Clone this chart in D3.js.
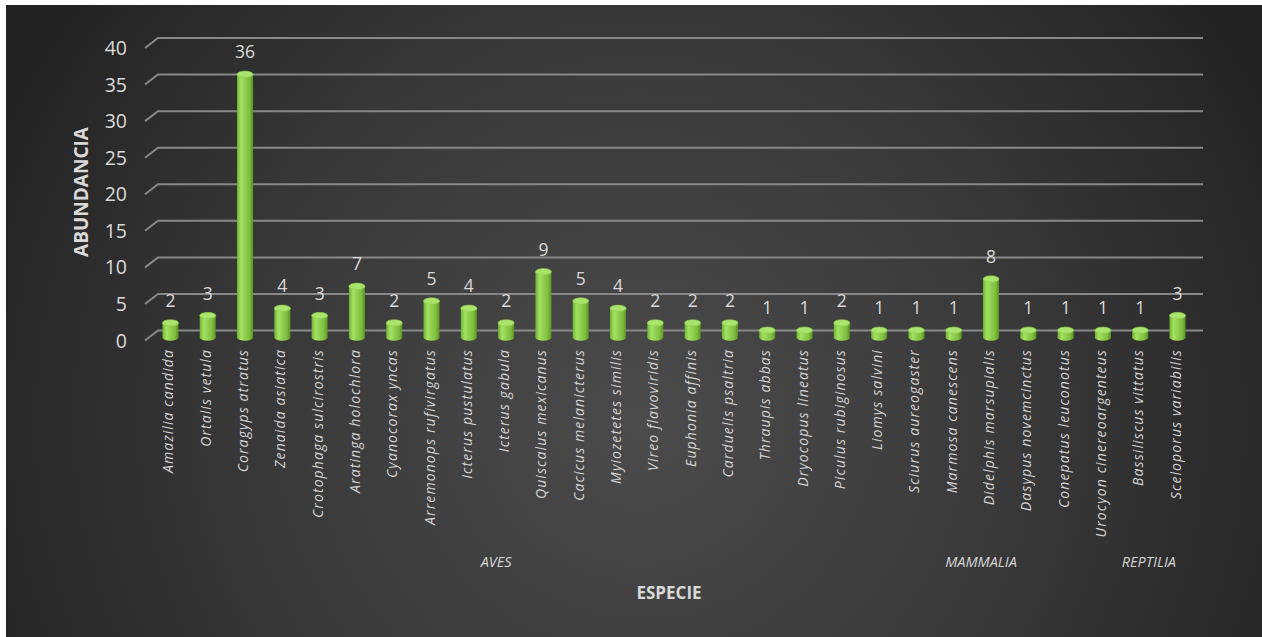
<!DOCTYPE html>
<html>
<head>
<meta charset="utf-8">
<script src="https://cdn.jsdelivr.net/npm/d3@7"></script>
<style>
  html, body { margin: 0; padding: 0; background: #ffffff; }
  svg { display: block; }
  text { font-family: "Open Sans", "DejaVu Sans", sans-serif; }
</style>
</head>
<body>
<svg id="chart" width="1262" height="637"></svg>
<script>
// Species abundance (individuals counted per species)
const species = [
  "Amazilia candida", "Ortalis vetula", "Coragyps atratus", "Zenaida asiatica",
  "Crotophaga sulcirostris", "Aratinga holochlora", "Cyanocorax yncas",
  "Arremonops rufivirgatus", "Icterus pustulatus", "Icterus gabula",
  "Quiscalus mexicanus", "Cacicus melanicterus", "Myiozetetes similis",
  "Vireo flavoviridis", "Euphonia affinis", "Carduelis psaltria",
  "Thraupis abbas", "Dryocopus lineatus", "Piculus rubiginosus",
  "Liomys salvini", "Sciurus aureogaster", "Marmosa canescens",
  "Didelphis marsupialis", "Dasypus novemcinctus", "Conepatus leuconotus",
  "Urocyon cinereoargenteus", "Bassiliscus vittatus", "Sceloporus variabilis"
];
const abundance = [2, 3, 36, 4, 3, 7, 2, 5, 4, 2, 9, 5, 4, 2, 2, 2, 1, 1, 2, 1, 1, 1, 8, 1, 1, 1, 1, 3];

// Taxonomic classes and how many consecutive species each one covers
const classes = ["AVES", "MAMMALIA", "REPTILIA"];
const classSizes = [19, 7, 2];

const yTicks = [0, 5, 10, 15, 20, 25, 30, 35, 40];

const svg = d3.select("#chart");
const W = 1262, H = 637;

// Dark panel with a soft radial light in the middle
const defs = svg.append("defs");
const bg = defs.append("radialGradient")
  .attr("id", "bgGrad")
  .attr("gradientUnits", "userSpaceOnUse")
  .attr("cx", 640).attr("cy", 420).attr("r", 720);
bg.append("stop").attr("offset", "0%").attr("stop-color", "#4b4b4b");
bg.append("stop").attr("offset", "55%").attr("stop-color", "#383838");
bg.append("stop").attr("offset", "100%").attr("stop-color", "#222222");

svg.append("rect")
  .attr("x", 6).attr("y", 5)
  .attr("width", W - 6).attr("height", H - 5)
  .attr("fill", "url(#bgGrad)");

// Cylinder shading for the columns
const barGrad = defs.append("linearGradient")
  .attr("id", "barGrad").attr("x1", "0%").attr("x2", "100%").attr("y1", "0%").attr("y2", "0%");
[["0%", "#6fb232"], ["25%", "#a3e262"], ["50%", "#92d050"], ["80%", "#7dbb3c"], ["100%", "#578f24"]]
  .forEach(([o, c]) => barGrad.append("stop").attr("offset", o).attr("stop-color", c));

// Scales: back wall for gridlines, columns sit a little in front of it
const depthX = 13, depthY = 10;
const x = d3.scaleBand().domain(species).range([152, 1196]).paddingInner(0.57).paddingOuter(0.28);
const yBack = d3.scaleLinear().domain([0, 40]).range([330.5, 38]);
const colOffset = 7;             // columns stand halfway into the floor depth
const gridRight = 1203;

// Gridlines with their perspective side segment
const grid = svg.append("g");
yTicks.forEach(t => {
  const yb = yBack(t);
  grid.append("path")
    .attr("d", `M${x.range()[0] - 7},${yb + depthY} L${x.range()[0] - 7 + depthX},${yb} L${gridRight},${yb}`)
    .attr("fill", "none")
    .attr("stroke", "#888888")
    .attr("stroke-width", 2);
});

// Y axis tick labels, placed at the front edge of the floor
svg.append("g").selectAll("text")
  .data(yTicks).join("text")
  .attr("x", 127)
  .attr("y", d => yBack(d) + depthY)
  .attr("dy", "0.36em")
  .attr("text-anchor", "end")
  .attr("font-size", 19.5)
  .attr("fill", "#d9d9d9")
  .text(d => d);

// Columns
const bw = x.bandwidth();
const ry = 3.2;
const bars = svg.append("g").selectAll("g")
  .data(species.map((s, i) => ({ s, v: abundance[i] })))
  .join("g");

bars.append("ellipse")
  .attr("cx", d => x(d.s) + bw / 2)
  .attr("cy", yBack(0) + colOffset)
  .attr("rx", bw / 2).attr("ry", ry)
  .attr("fill", "url(#barGrad)");
bars.append("rect")
  .attr("x", d => x(d.s))
  .attr("y", d => yBack(d.v) + colOffset)
  .attr("width", bw)
  .attr("height", d => yBack(0) - yBack(d.v))
  .attr("fill", "url(#barGrad)");
bars.append("ellipse")
  .attr("cx", d => x(d.s) + bw / 2)
  .attr("cy", d => yBack(d.v) + colOffset)
  .attr("rx", bw / 2).attr("ry", ry)
  .attr("fill", "#a9e46c")
  .attr("stroke", "#8cc94c").attr("stroke-width", 0.6);

// Value labels
bars.append("text")
  .attr("x", d => x(d.s) + bw / 2)
  .attr("y", d => yBack(d.v) + colOffset - 16)
  .attr("text-anchor", "middle")
  .attr("font-size", 17.5)
  .attr("fill", "#d9d9d9")
  .text(d => d.v);

// Species names, rotated
svg.append("g").selectAll("text")
  .data(species).join("text")
  .attr("transform", d => `translate(${x(d) + bw / 2 + 3},349) rotate(-90)`)
  .attr("text-anchor", "end")
  .attr("font-size", 14)
  .attr("font-style", "italic")
  .attr("letter-spacing", 1.1)
  .attr("fill", "#d4d4d4")
  .text(d => d);

// Class labels centred under their group of species
let start = 0;
const classPos = classes.map((c, i) => {
  const first = species[start], last = species[start + classSizes[i] - 1];
  start += classSizes[i];
  return { c, cx: (x(first) + x(last) + bw) / 2 - 10 };
});
svg.append("g").selectAll("text")
  .data(classPos).join("text")
  .attr("x", d => d.cx)
  .attr("y", 567)
  .attr("text-anchor", "middle")
  .attr("font-size", 14.5)
  .attr("font-style", "italic")
  .attr("fill", "#d4d4d4")
  .text(d => d.c);

// Axis titles
svg.append("text")
  .attr("x", (x.range()[0] + x.range()[1]) / 2 - 5)
  .attr("y", 599)
  .attr("text-anchor", "middle")
  .attr("font-size", 17)
  .attr("font-weight", "bold")
  .attr("fill", "#d9d9d9")
  .text("ESPECIE");

svg.append("text")
  .attr("transform", "translate(88,192) rotate(-90)")
  .attr("text-anchor", "middle")
  .attr("font-size", 19)
  .attr("font-weight", "bold")
  .attr("fill", "#d9d9d9")
  .text("ABUNDANCIA");
</script>
</body>
</html>
